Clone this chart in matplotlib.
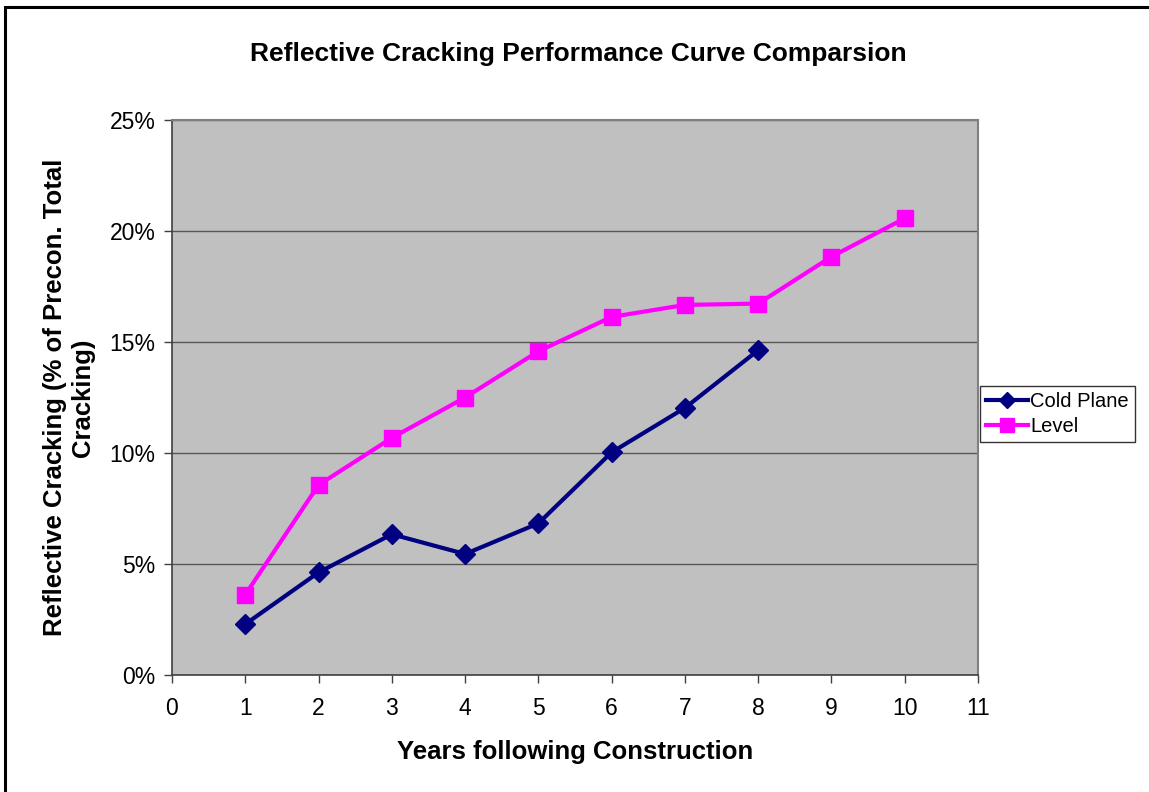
import matplotlib
matplotlib.use("Agg")
import matplotlib.pyplot as plt
from matplotlib.ticker import FuncFormatter, MultipleLocator
from matplotlib.patches import Rectangle

plt.rcParams['font.family'] = ['Liberation Sans', 'DejaVu Sans']

years_cold = [1, 2, 3, 4, 5, 6, 7, 8]
cold_plane = [0.0229, 0.0462, 0.0634, 0.0545, 0.0683, 0.1003, 0.1203, 0.1463]
years_level = [1, 2, 3, 4, 5, 6, 7, 8, 9, 10]
level = [0.0362, 0.0856, 0.1068, 0.1250, 0.1458, 0.1613, 0.1667, 0.1673, 0.1884, 0.2057]

W, H = 1149, 792
fig = plt.figure(figsize=(W / 100, H / 100), dpi=100)
fig.patch.set_facecolor('white')

# outer border (left and top visible)
fig.patches.append(Rectangle((5 / W, -0.1), 1.2, (H - 7) / H + 0.1, transform=fig.transFigure,
                             fill=False, edgecolor='black', linewidth=2.2))

ax = fig.add_axes([172 / W, 1 - 675 / H, (978 - 172) / W, (675 - 120) / H])
ax.set_facecolor('#C0C0C0')
ax.set_xlim(0, 11)
ax.set_ylim(0, 0.25)
ax.xaxis.set_major_locator(MultipleLocator(1))
ax.yaxis.set_major_locator(MultipleLocator(0.05))
ax.yaxis.set_major_formatter(FuncFormatter(lambda v, p: f"{v * 100:.0f}%"))
ax.grid(axis='y', color='#000000', linewidth=1.0, alpha=0.55)
ax.set_axisbelow(True)
for s in ['top', 'right']:
    ax.spines[s].set_color('#808080')
    ax.spines[s].set_linewidth(1.5)
for s in ['left', 'bottom']:
    ax.spines[s].set_color('#404040')
    ax.spines[s].set_linewidth(1.2)
ax.tick_params(direction='out', length=6, width=1, color='#404040', labelsize=16.5, pad=6)
ax.tick_params(axis='x', pad=10)

ax.plot(years_cold, cold_plane, color='#000080', linewidth=3, marker='D', markersize=10,
        label='Cold Plane', zorder=3)
ax.plot(years_level, level, color='#FF00FF', linewidth=3, marker='s', markersize=12,
        label='Level', zorder=3)

fig.text(578 / W, 1 - 54 / H, 'Reflective Cracking Performance Curve Comparsion',
         ha='center', va='center', fontsize=19, fontweight='bold')
ax.set_xlabel('Years following Construction', fontsize=18.5, fontweight='bold', labelpad=14)
ax.set_ylabel('Reflective Cracking (% of Precon. Total\nCracking)', fontsize=18.5,
              fontweight='bold', labelpad=10, linespacing=1.25)

leg = ax.legend(loc='center left', bbox_to_anchor=(980 / W, 1 - 414 / H),
                bbox_transform=fig.transFigure, frameon=True, fancybox=False,
                edgecolor='black', fontsize=14.5, handlelength=2.1, borderpad=0.3,
                labelspacing=0.3, handletextpad=0.1, borderaxespad=0, markerscale=0.85)
leg.get_frame().set_linewidth(1.0)

fig.savefig('out.png', dpi=100, facecolor='white')
